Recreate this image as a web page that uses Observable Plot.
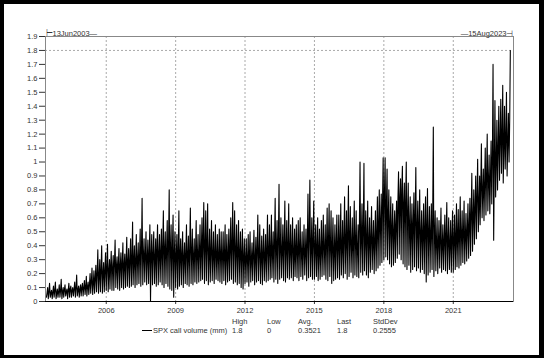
<!DOCTYPE html>
<html><head><meta charset="utf-8">
<script src="https://cdn.jsdelivr.net/npm/d3@7"></script>
<script src="https://cdn.jsdelivr.net/npm/@observablehq/plot@0.6"></script>
<style>
body{margin:0;background:#fff;}
#wrap{position:relative;width:544px;height:358px;overflow:hidden;font-family:"Liberation Sans",Arial,sans-serif;background:#fff;}
#border{position:absolute;left:0;top:0;width:544px;height:358px;box-sizing:border-box;border:4px solid #000;border-right-width:5px;border-bottom-width:3px;pointer-events:none;}
#chart{position:absolute;left:0;top:0;}
#legend{position:absolute;left:0;top:0;width:544px;height:358px;font-size:7.5px;color:#333;}
#legend span{position:absolute;white-space:nowrap;line-height:1;}
#legend .glyph{position:absolute;height:0;border-top:1px solid #000;}
</style></head><body>
<div id="wrap"><div id="chart"></div><div id="legend"></div><div id="border"></div></div>
<script>
// Monthly readings from the chart, first month = Jun 2003: low, upper edge of the dense band, spike high
const firstYear = 2003, firstMonth = 5; // June
const monthlyHigh = [
  0.10,0.13,0.08,0.11,0.14,0.09,0.12,                               // 2003 Jun-Dec
  0.16,0.10,0.12,0.09,0.13,0.11,0.10,0.14,0.19,0.11,0.12,0.13,      // 2004
  0.15,0.18,0.14,0.20,0.24,0.22,0.26,0.37,0.30,0.40,0.28,0.35,      // 2005
  0.41,0.30,0.36,0.33,0.44,0.32,0.38,0.35,0.42,0.34,0.46,0.38,      // 2006
  0.45,0.57,0.40,0.48,0.42,0.52,0.74,0.45,0.50,0.44,0.55,0.48,      // 2007
  0.50,0.45,0.55,0.48,0.52,0.65,0.50,0.58,0.80,0.55,0.62,0.50,      // 2008
  0.48,0.65,0.45,0.50,0.42,0.55,0.47,0.67,0.52,0.45,0.58,0.48,      // 2009
  0.55,0.60,0.71,0.65,0.70,0.52,0.58,0.50,0.55,0.48,0.52,0.50,      // 2010
  0.50,0.55,0.48,0.52,0.60,0.71,0.65,0.55,0.58,0.50,0.52,0.45,      // 2011
  0.45,0.48,0.50,0.42,0.51,0.46,0.62,0.55,0.47,0.52,0.48,0.62,      // 2012
  0.55,0.62,0.50,0.74,0.58,0.84,0.60,0.55,0.72,0.58,0.70,0.55,      // 2013
  0.60,0.52,0.55,0.58,0.60,0.50,0.55,0.52,0.77,0.87,0.60,0.72,      // 2014
  0.55,0.60,0.52,0.58,0.62,0.55,0.67,0.70,0.65,0.60,0.55,0.62,      // 2015
  0.62,0.70,0.58,0.75,0.65,0.83,0.68,0.60,0.72,0.65,0.55,1.00,      // 2016
  0.70,0.99,0.65,0.72,0.60,0.68,0.58,0.65,0.75,0.80,0.77,1.03,      // 2017
  1.03,0.95,0.80,0.75,0.70,0.65,0.72,0.93,0.88,0.97,0.85,1.00,      // 2018
  0.85,0.75,0.70,0.78,0.96,0.72,0.80,0.65,0.70,0.75,0.81,0.68,      // 2019
  0.70,1.25,0.65,0.60,0.58,0.67,0.55,0.62,0.71,0.60,0.58,0.65,      // 2020
  0.62,0.70,0.66,0.75,0.65,0.72,0.63,0.70,0.74,0.92,0.80,0.90,      // 2021
  1.02,0.90,1.13,0.95,1.10,1.20,1.05,1.15,1.70,1.44,1.30,1.40,      // 2022
  1.45,1.55,1.40,1.50,1.35,1.80                                     // 2023 Jan-Jun
];
const monthlyCore = [
  0.06,0.07,0.06,0.07,0.08,0.06,0.07,
  0.08,0.07,0.08,0.07,0.08,0.09,0.08,0.09,0.10,0.08,0.09,0.10,
  0.10,0.11,0.10,0.12,0.14,0.13,0.16,0.20,0.18,0.22,0.20,0.22,
  0.24,0.22,0.25,0.24,0.28,0.25,0.27,0.26,0.28,0.26,0.30,0.28,
  0.30,0.32,0.28,0.31,0.30,0.33,0.36,0.32,0.34,0.31,0.35,0.33,
  0.34,0.32,0.36,0.34,0.35,0.40,0.36,0.38,0.42,0.37,0.38,0.34,
  0.33,0.38,0.32,0.35,0.31,0.36,0.33,0.38,0.35,0.32,0.36,0.34,
  0.35,0.38,0.42,0.40,0.40,0.34,0.36,0.33,0.35,0.32,0.34,0.33,
  0.33,0.35,0.32,0.34,0.38,0.42,0.40,0.36,0.37,0.34,0.35,0.31,
  0.31,0.32,0.33,0.30,0.34,0.31,0.36,0.34,0.32,0.34,0.33,0.37,
  0.36,0.38,0.34,0.42,0.37,0.45,0.38,0.36,0.42,0.37,0.40,0.36,
  0.38,0.35,0.36,0.37,0.38,0.34,0.36,0.35,0.42,0.45,0.38,0.42,
  0.37,0.39,0.35,0.38,0.40,0.37,0.42,0.44,0.41,0.39,0.36,0.40,
  0.40,0.44,0.38,0.46,0.42,0.50,0.44,0.40,0.46,0.42,0.38,0.55,
  0.45,0.55,0.44,0.47,0.42,0.46,0.42,0.45,0.50,0.55,0.58,0.70,
  0.78,0.70,0.60,0.55,0.52,0.50,0.55,0.72,0.75,0.80,0.70,0.72,
  0.62,0.55,0.50,0.56,0.60,0.52,0.55,0.48,0.50,0.52,0.55,0.48,
  0.50,0.60,0.46,0.44,0.42,0.46,0.40,0.44,0.48,0.43,0.42,0.45,
  0.44,0.48,0.46,0.50,0.46,0.50,0.46,0.50,0.54,0.62,0.60,0.66,
  0.75,0.70,0.82,0.78,0.85,0.90,0.85,0.88,1.05,0.95,1.00,1.08,
  1.15,1.20,1.10,1.18,1.12,1.30
];
const monthlyLow = [
  0.03,0.02,0.03,0.02,0.03,0.02,0.03,
  0.03,0.02,0.03,0.04,0.02,0.03,0.03,0.04,0.03,0.04,0.03,0.04,
  0.04,0.05,0.04,0.05,0.06,0.05,0.06,0.07,0.06,0.07,0.06,0.07,
  0.08,0.07,0.09,0.08,0.08,0.10,0.09,0.08,0.10,0.09,0.10,0.11,
  0.10,0.11,0.12,0.10,0.12,0.13,0.11,0.12,0.14,0.12,0.13,0.00,
  0.12,0.13,0.11,0.12,0.14,0.12,0.10,0.13,0.11,0.09,0.08,0.03,
  0.10,0.09,0.11,0.12,0.10,0.13,0.12,0.11,0.13,0.12,0.14,0.13,
  0.14,0.15,0.16,0.13,0.15,0.12,0.14,0.15,0.13,0.16,0.15,0.14,
  0.13,0.15,0.12,0.14,0.15,0.16,0.13,0.14,0.12,0.13,0.10,0.09,
  0.13,0.14,0.11,0.14,0.15,0.12,0.14,0.15,0.13,0.12,0.15,0.14,
  0.15,0.16,0.17,0.14,0.16,0.13,0.16,0.17,0.15,0.14,0.17,0.16,
  0.17,0.15,0.18,0.17,0.15,0.18,0.16,0.19,0.15,0.17,0.18,0.16,
  0.16,0.18,0.15,0.16,0.18,0.19,0.16,0.15,0.18,0.13,0.15,0.16,
  0.17,0.16,0.19,0.17,0.20,0.16,0.18,0.21,0.17,0.19,0.18,0.17,
  0.21,0.19,0.22,0.19,0.17,0.21,0.23,0.20,0.22,0.24,0.26,0.28,
  0.30,0.32,0.30,0.27,0.25,0.26,0.28,0.31,0.34,0.30,0.27,0.25,
  0.23,0.26,0.21,0.23,0.25,0.22,0.24,0.21,0.23,0.20,0.14,0.19,
  0.21,0.23,0.18,0.22,0.20,0.24,0.21,0.23,0.22,0.20,0.23,0.21,
  0.21,0.23,0.25,0.24,0.26,0.28,0.27,0.29,0.31,0.33,0.36,0.41,
  0.45,0.50,0.55,0.60,0.58,0.62,0.65,0.63,0.70,0.44,0.75,0.80,
  0.87,0.92,0.85,0.95,0.90,1.00
];
const rangeLabels = ["13Jun2003", "15Aug2023"];
const xTickYears = [2006, 2009, 2012, 2015, 2018, 2021];
const yTickValues = [0,0.1,0.2,0.3,0.4,0.5,0.6,0.7,0.8,0.9,1,1.1,1.2,1.3,1.4,1.5,1.6,1.7,1.8,1.9];
const seriesName = "SPX call volume (mm)";
const statLabels = ["High", "Low", "Avg.", "Last", "StdDev"];
const statValues = ["1.8", "0", "0.3521", "1.8", "0.2555"];
const lastValue = 1.8;

const rows = [];
monthlyLow.forEach((lo, i) => {
  rows.push({date: new Date(Date.UTC(firstYear, firstMonth + i, 1)), v: lo});
  rows.push({date: new Date(Date.UTC(firstYear, firstMonth + i, 11)), v: monthlyCore[i]});
  rows.push({date: new Date(Date.UTC(firstYear, firstMonth + i, 21)), v: monthlyHigh[i]});
});
const xTicks = xTickYears.map(y => new Date(Date.UTC(y, 0, 1)));
const xDomain = [new Date(Date.UTC(2003, 4, 18)), new Date(Date.UTC(2023, 7, 10))];

const chart = Plot.plot({
  width: 544, height: 318,
  marginLeft: 45, marginRight: 31, marginTop: 36, marginBottom: 17,
  style: {fontFamily: "'Liberation Sans', Arial, sans-serif", fontSize: "7.5px", color: "#333", background: "transparent"},
  x: {type: "utc", domain: xDomain, ticks: xTicks, tickFormat: d => String(d.getUTCFullYear()), tickSize: 3, tickPadding: 3, label: null},
  y: {domain: [0, 1.9], ticks: yTickValues, tickFormat: d => String(+d.toFixed(1)), tickSize: 6, tickPadding: 2, label: null},
  marks: [
    Plot.ruleX(xTicks, {stroke: "#aaa", strokeDasharray: "2,2"}),
    Plot.ruleY([lastValue], {stroke: "#aaa", strokeDasharray: "2,2"}),
    Plot.frame({stroke: "#888"}),
    Plot.line(rows, {x: "date", y: "v", stroke: "#000", strokeWidth: 1.1}),
    Plot.ruleY([0], {stroke: "#000"}),
    Plot.text([rangeLabels[0]], {frameAnchor: "top-left", dy: -6, text: d => "⊢" + d + "—", textAnchor: "start", fill: "#333"}),
    Plot.text([rangeLabels[1]], {frameAnchor: "top-right", dy: -6, text: d => "—" + d + "⊣", textAnchor: "end", fill: "#333"})
  ]
});
document.getElementById("chart").appendChild(chart);

// legend table below the plot
const lg = document.getElementById("legend");
function addSpan(txt, left, top) { const s = document.createElement("span"); s.textContent = txt; s.style.left = left + "px"; s.style.top = top + "px"; lg.appendChild(s); }
const g = document.createElement("div"); g.className = "glyph"; g.style.left = "142px"; g.style.width = "10px"; g.style.top = "330px"; lg.appendChild(g);
addSpan(seriesName, 153, 327);
const colX = [232, 267, 298, 337, 373];
statLabels.forEach((t, i) => addSpan(t, colX[i], 318));
statValues.forEach((t, i) => addSpan(t, colX[i], 327));
</script></body></html>
